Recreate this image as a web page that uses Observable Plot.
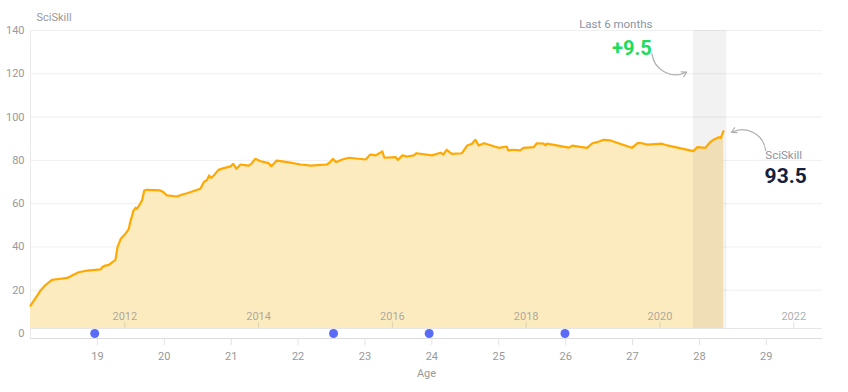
<!DOCTYPE html>
<html>
<head>
<meta charset="utf-8">
<script src="https://cdn.jsdelivr.net/npm/d3@7"></script>
<script src="https://cdn.jsdelivr.net/npm/@observablehq/plot@0.6"></script>
<style>
  html, body { margin: 0; padding: 0; background: #fff; }
  #chart { width: 848px; height: 392px; }
  svg { font-family: Roboto, "Noto Sans", sans-serif; }
</style>
</head>
<body>
<div id="chart"></div>
<script>
// Skill score over age
const ages = [18.00,18.05,18.10,18.15,18.22,18.32,18.45,18.55,18.62,18.72,18.85,19.05,19.07,19.12,19.17,19.22,19.27,19.30,19.35,19.42,19.47,19.49,19.54,19.57,19.59,19.64,19.67,19.70,19.74,19.94,19.99,20.04,20.19,20.27,20.34,20.54,20.59,20.64,20.67,20.70,20.74,20.81,20.89,20.99,21.03,21.08,21.14,21.26,21.30,21.36,21.44,21.56,21.60,21.68,21.84,22.04,22.19,22.43,22.48,22.52,22.57,22.66,22.76,23.01,23.08,23.16,23.26,23.29,23.46,23.49,23.56,23.63,23.73,23.77,24.00,24.13,24.17,24.22,24.30,24.45,24.53,24.60,24.65,24.70,24.78,25.00,25.12,25.14,25.22,25.32,25.37,25.52,25.57,25.67,25.70,25.72,26.05,26.10,26.22,26.32,26.40,26.47,26.57,26.67,26.99,27.08,27.14,27.22,27.44,27.52,27.91,27.97,28.09,28.16,28.21,28.29,28.32,28.36];
const skill = [12.9,15.2,17.5,19.9,22.3,24.8,25.3,25.7,26.8,28.3,29.1,29.6,30.6,31.4,31.7,32.9,34.0,39.9,43.8,46.1,48.4,51.4,56.8,58.1,57.6,59.9,61.8,66.1,66.4,66.1,65.3,63.8,63.3,64.2,64.8,66.9,69.9,71.0,73.0,71.9,73.0,75.6,76.4,77.2,78.4,76.1,78.1,77.6,78.4,80.7,79.6,78.7,77.3,79.9,79.2,78.1,77.6,78.1,79.2,80.7,79.2,80.4,81.2,80.4,82.7,82.3,84.1,81.2,81.5,80.2,82.3,81.8,82.3,83.3,82.3,83.5,82.7,84.9,83.0,83.3,86.9,87.7,89.5,86.9,87.9,85.8,86.4,84.6,84.9,84.6,85.8,86.1,87.9,87.7,86.9,87.7,85.9,86.8,86.2,85.8,87.9,88.4,89.5,89.2,85.8,88.1,87.9,87.3,87.7,86.9,84.3,86.1,85.8,88.4,89.5,90.7,90.4,93.5];

// Events (blue dots) at ages
const eventAges = [18.96, 22.53, 23.96, 25.99];

// Axes
const ageTicks = [19, 20, 21, 22, 23, 24, 25, 26, 27, 28, 29];
const yTicks = [0, 20, 40, 60, 80, 100, 120, 140];
const yearLabels = [2012, 2014, 2016, 2018, 2020, 2022];
const birthYear = 1992.59;

// Annotations
const bandStart = 27.91, bandEnd = 28.41;
const currentValue = 93.5;
const change6m = 9.5;
const baseline = 2.3;

const data = ages.map((a, i) => ({age: a, v: skill[i]}));
const years = yearLabels.map(y => ({year: y, age: y - birthYear}));

const chart = Plot.plot({
  width: 848,
  height: 392,
  marginLeft: 30,
  marginRight: 26,
  marginTop: 30,
  marginBottom: 54,
  style: {fontFamily: "Roboto, 'Noto Sans', sans-serif", fontSize: "11px", color: "#999", background: "#fff"},
  x: {domain: [18, 29.84]},
  y: {domain: [-2.3, 140]},
  marks: [
    // gridlines
    Plot.ruleY(yTicks.filter(d => d > 0), {stroke: "#efefef"}),
    Plot.ruleX([18], {y1: -2.3, y2: 140, stroke: "#eaeaea"}),
    // area + line
    Plot.areaY(data, {x: "age", y1: baseline, y2: "v", fill: "#fdebc0"}),
    Plot.ruleY([baseline], {stroke: "#e6e6e6"}),
    // last 6 months band
    Plot.rect([{x1: bandStart, x2: bandEnd}], {x1: "x1", x2: "x2", y1: baseline, y2: 140, fill: "#000", fillOpacity: 0.05}),
    Plot.lineY(data, {x: "age", y: "v", stroke: "#ffa800", strokeWidth: 2.2, curve: "linear"}),
    // year axis inside plot
    Plot.ruleX(years, {x: "age", y1: baseline, y2: 5.2, stroke: "#888", strokeOpacity: 0.25}),
    Plot.text(years, {x: "age", y: 8, text: d => String(d.year), fill: "#888", fillOpacity: 0.7, fontSize: 11}),
    // bottom axis line
    Plot.ruleY([-2.3], {stroke: "#dcdcdc", strokeWidth: 1.2}),
    // y axis
    Plot.axisY({ticks: yTicks, tickSize: 0, tickPadding: 6, label: null, fill: "#999", fontSize: 11}),
    Plot.text(["SciSkill"], {frameAnchor: "top-left", dx: 6, dy: -17, textAnchor: "start", fill: "#999", fontSize: 11}),
    // x axis (age)
    Plot.axisX({ticks: ageTicks, tickSize: 7, tickPadding: 7, stroke: "#e2e2e2", fill: "#999", fontSize: 11,
      label: "Age", labelAnchor: "center", labelArrow: "none", labelOffset: 38}),
    // event dots
    Plot.dot(eventAges, {x: d => d, y: 0, r: 4.5, fill: "#5a6cf5"}),
    // annotations
    Plot.text(["Last 6 months"], {x: 26.75, y: 142.8, fill: "#8a94a6", fontSize: 11.5}),
    Plot.text([`+${change6m}`], {x: 26.99, y: 131.8, fill: "#20dc5a", fontSize: 20, fontWeight: "bold"}),
    Plot.arrow([{x1: 27.29, y1: 129.3, x2: 27.81, y2: 120.8}], {x1: "x1", y1: "y1", x2: "x2", y2: "y2", bend: -55, stroke: "#b0b0b0", strokeWidth: 1.2, headLength: 7}),
    Plot.text(["SciSkill"], {x: 29.26, y: 82.3, fill: "#8a94a6", fontSize: 11.5}),
    Plot.text([String(currentValue)], {x: 29.29, y: 72.6, fill: "#14213d", fontSize: 21, fontWeight: "bold"}),
    Plot.arrow([{x1: 28.99, y1: 84.6, x2: 28.48, y2: 92.9}], {x1: "x1", y1: "y1", x2: "x2", y2: "y2", bend: -55, stroke: "#b0b0b0", strokeWidth: 1.2, headLength: 7})
  ]
});
document.getElementById("chart").appendChild(chart);
</script>
</body>
</html>
